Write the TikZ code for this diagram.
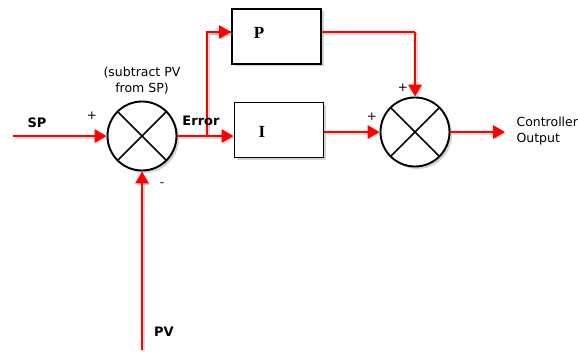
\documentclass[tikz,border=0pt]{standalone}
\usepackage{fontspec}
\setmainfont{DejaVu Sans}
\newfontfamily\serifbf{Liberation Serif}
\usetikzlibrary{arrows.meta,shadows}
\begin{document}
\begin{tikzpicture}[x=1pt,y=-1pt,
  blockbox/.style={draw=black, line width=1.9pt, fill=white, minimum width=89pt, minimum height=55pt,
    drop shadow={shadow xshift=2.5pt, shadow yshift=-2.5pt, opacity=0.35, fill=gray}},
  sumcirc/.style={draw=black, circle, line width=1.9pt, fill=white, minimum size=69pt, inner sep=0pt,
    drop shadow={shadow xshift=2.5pt, shadow yshift=-2.5pt, opacity=0.35, fill=gray},
    path picture={\draw[line width=1.6pt] (path picture bounding box.north west) -- (path picture bounding box.south east)
      (path picture bounding box.north east) -- (path picture bounding box.south west);}},
  sig/.style={draw=red, line width=2.8pt,
    preaction={draw=gray, opacity=0.3, line width=2.8pt, transform canvas={shift={(1.5pt,-1.5pt)}}}},
  sigarrow/.style={sig, -{Triangle[length=12pt,width=13pt]}},
  boldlbl/.style={font=\fontsize{13}{15}\selectfont\bfseries},
  txt/.style={font=\fontsize{12.5}{16}\selectfont, align=center},
  sign/.style={font=\fontsize{12}{12}\selectfont},
  blocklbl/.style={font=\serifbf\fontsize{17}{18}\selectfont\bfseries}
]
\useasboundingbox (0,0) rectangle (578,352);
% blocks
\node[blockbox] (pbox) at (276.5,36.5) {};
\node[blockbox] (ibox) at (279,130) {};
\node[blocklbl] (plbl) at (259,33) {P};
\node[blocklbl] (ilbl) at (262,132) {I};
% summing junctions
\node[sumcirc] (s1) at (142,136) {};
\node[sumcirc] (s2) at (415,132) {};
% free ends
\coordinate (spin) at (13,136);
\coordinate (pvin) at (142,350);
\coordinate (branch) at (207,136);
\coordinate (pturn) at (415,32);
\coordinate (out) at (505,132);
% connectors
\draw[sigarrow] (spin) -- (s1.west);
\draw[sigarrow] (pvin) -- (s1.south);
\draw[sig] (branch) |- (pbox.west |- pturn);
\draw[sigarrow] (branch |- pturn) -- (pbox.west |- pturn);
\draw[sigarrow] (s1.east) -- (ibox.west |- s1.east);
\draw[sig] (pbox.east |- pturn) -- (pturn);
\draw[sigarrow] (pturn) -- (s2.north);
\draw[sigarrow] (ibox.east |- s2.west) -- (s2.west);
\draw[sigarrow] (s2.east) -- (out);
% labels
\node[boldlbl] (splbl) at (37,123) {SP};
\node[sign] (spplus) at (92,116) {+};
\node[txt] (subl) at (142,81) {(subtract PV\\from SP)};
\node[boldlbl] (errlbl) at (201,121) {Error};
\node[boldlbl] (pvlbl) at (164,332) {PV};
\node[sign] (minus) at (162,185) {-};
\node[sign] (ptop) at (403,88) {+};
\node[sign] (pleft) at (372,117) {+};
\node[txt, align=left, anchor=west] (outlbl) at (513,131) {Controller\\Output};
\end{tikzpicture}
\end{document}
